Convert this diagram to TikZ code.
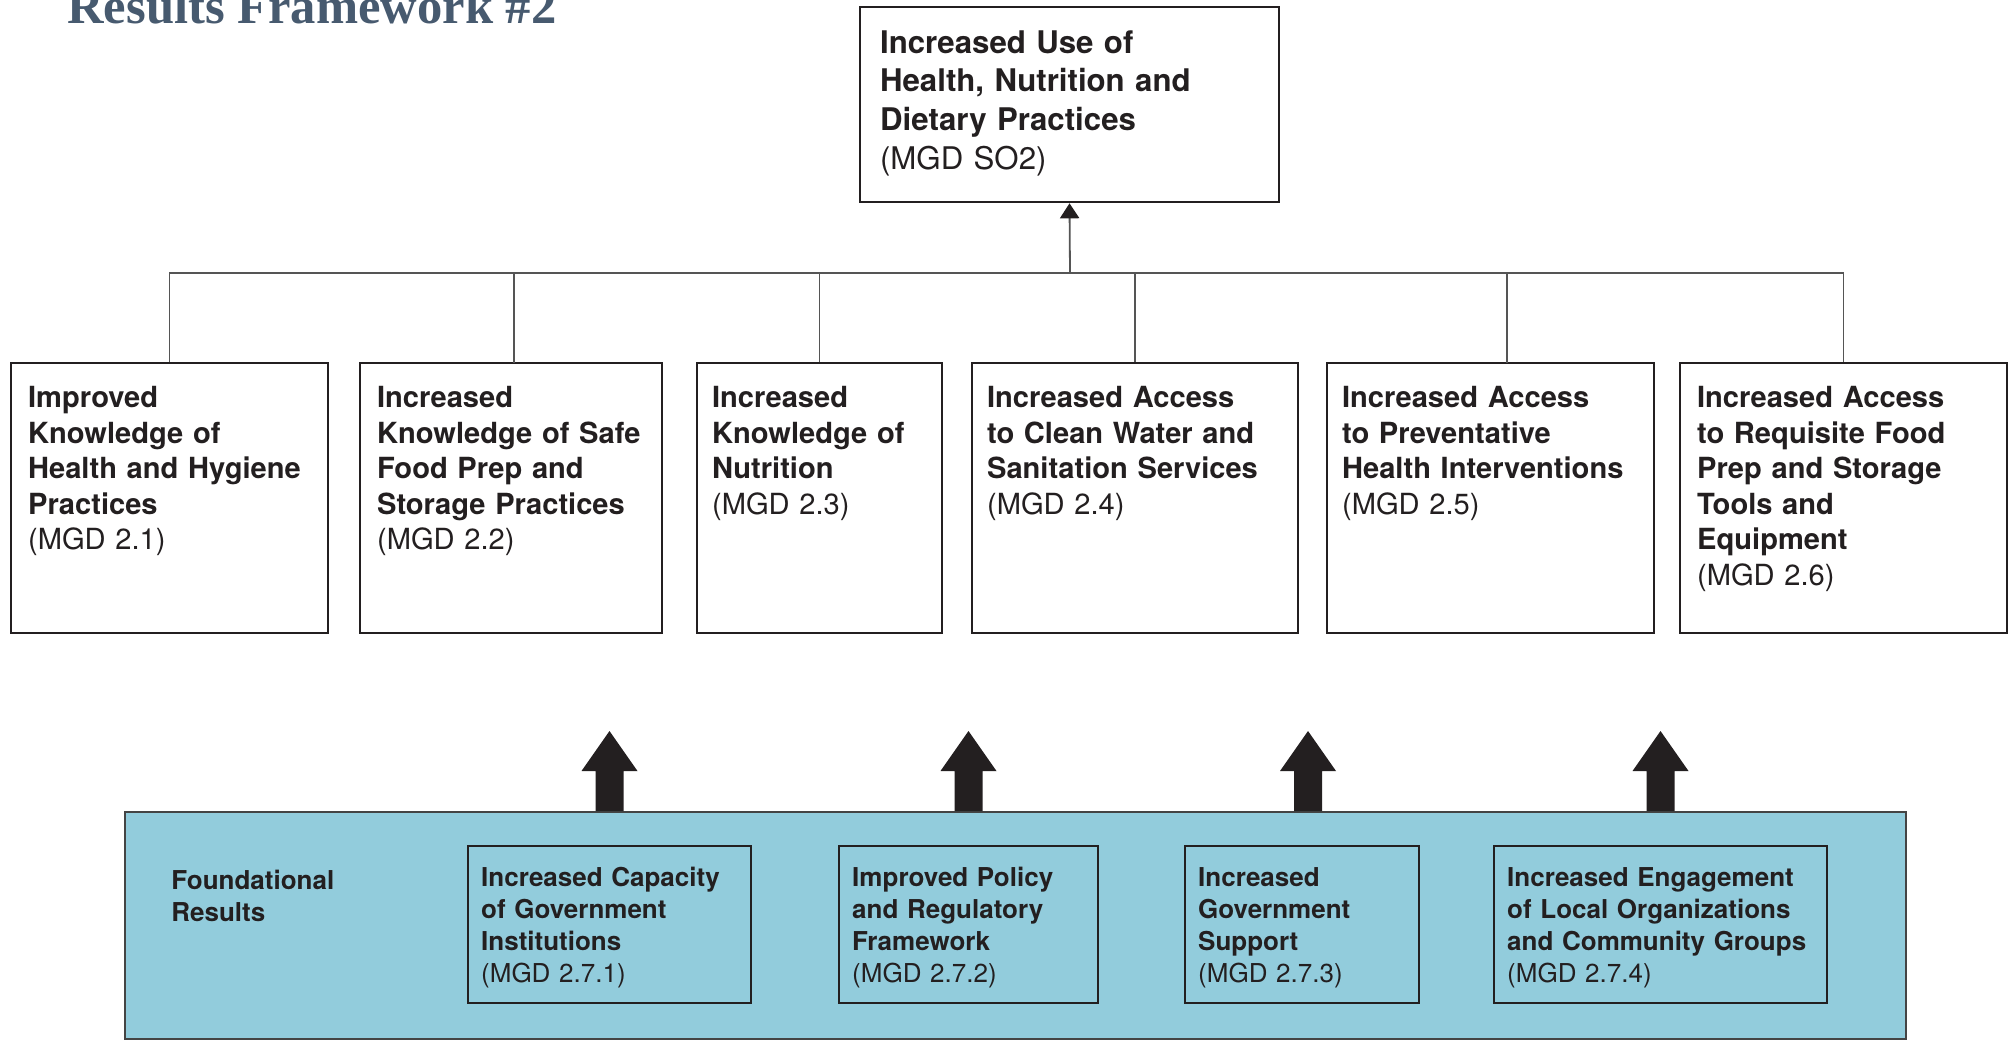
\documentclass[tikz,border=0pt]{standalone}
\usepackage{fontspec}
\usetikzlibrary{calc,arrows.meta}
\newfontfamily\hv{TeX Gyre Heros}
\newfontfamily\ttlfont{Liberation Serif}
\definecolor{ink}{HTML}{231F20}
\definecolor{fblue}{HTML}{92CCDC}
\definecolor{ttlcol}{HTML}{475A6F}
\definecolor{conncol}{HTML}{555555}
\tikzset{
  box/.style={draw=ink, line width=1.3pt, inner sep=0pt, fill=white},
  fbox/.style={draw=ink, line width=1.2pt, inner sep=0pt, fill=fblue},
  topfont/.style={font=\hv\fontsize{15.6}{19.3}\selectfont},
  rowfont/.style={font=\hv\fontsize{14.55}{17.75}\selectfont},
  fndfont/.style={font=\hv\fontsize{13}{16}\selectfont},
  txt/.style={anchor=base west, align=left, inner sep=0pt, text width=200pt, text=ink},
  conn/.style={draw=conncol, line width=0.9pt},
  barrow/.style={fill=ink},
}
\begin{document}
\begin{tikzpicture}[x=0.5pt, y=-0.5pt]
\useasboundingbox (0,0) rectangle (2009,1041);

% title
\node[anchor=base west, inner sep=0pt, text=ttlcol, font=\ttlfont\bfseries\fontsize{25.3}{30}\selectfont] (title) at (67,23) {Results Framework \#2};

% top box
\node[box, minimum width=209.5pt, minimum height=97.5pt] (top) at (1069.5,104.5) {};
\node[txt, topfont] (ttop) at ($(top.north west)+(21,47.5)$) {\bfseries Increased Use of\\Health, Nutrition and\\Dietary Practices\\\mdseries(MGD SO2)};

% row boxes
\node[box, minimum width=158.5pt, minimum height=135pt] (b1) at (169.5,498) {};
\node[box, minimum width=151pt, minimum height=135pt] (b2) at (511,498) {};
\node[box, minimum width=122.5pt, minimum height=135pt] (b3) at (819.5,498) {};
\node[box, minimum width=163pt, minimum height=135pt] (b4) at (1135,498) {};
\node[box, minimum width=163.5pt, minimum height=135pt] (b5) at (1490.5,498) {};
\node[box, minimum width=163.5pt, minimum height=135pt] (b6) at (1843.5,498) {};

\node[txt, rowfont] (t1) at ($(b1.north west)+(18,46)$) {\bfseries Improved\\Knowledge of\\Health and Hygiene\\Practices\\\mdseries(MGD 2.1)};
\node[txt, rowfont] (t2) at ($(b2.north west)+(18,46)$) {\bfseries Increased\\Knowledge of Safe\\Food Prep and\\Storage Practices\\\mdseries(MGD 2.2)};
\node[txt, rowfont] (t3) at ($(b3.north west)+(16,46)$) {\bfseries Increased\\Knowledge of\\Nutrition\\\mdseries(MGD 2.3)};
\node[txt, rowfont] (t4) at ($(b4.north west)+(16,46)$) {\bfseries Increased Access\\to Clean Water and\\Sanitation Services\\\mdseries(MGD 2.4)};
\node[txt, rowfont] (t5) at ($(b5.north west)+(16,46)$) {\bfseries Increased Access\\to Preventative\\Health Interventions\\\mdseries(MGD 2.5)};
\node[txt, rowfont] (t6) at ($(b6.north west)+(18,46)$) {\bfseries Increased Access\\to Requisite Food\\Prep and Storage\\Tools and\\Equipment\\\mdseries(MGD 2.6)};

% tree connectors
\coordinate (bus) at (1070,273);
\coordinate (d2) at (514,363);
\coordinate (d5) at (1507,363);
\draw[conn] (b1.north) |- (bus) -| (b6.north);
\draw[conn] (d2) -- (d2 |- bus);
\draw[conn] (b3.north) -- (b3.north |- bus);
\draw[conn] (b4.north) -- (b4.north |- bus);
\draw[conn] (d5) -- (d5 |- bus);
\draw[conn, -{Triangle[width=9.6pt,length=7.5pt,color=ink,fill=ink]}] (bus) -- (top.south);

% foundational results
\node[fbox, draw=conncol!80!black, line width=1pt, minimum width=890.5pt, minimum height=113.5pt] (fnd) at (1015.5,925.5) {};
\node[txt, fndfont] (tf) at (171,889) {\bfseries Foundational\\Results};

\node[fbox, minimum width=141.5pt, minimum height=78.5pt] (fa) at (609.5,924.5) {};
\node[fbox, minimum width=129.5pt, minimum height=78.5pt] (fb) at (968.5,924.5) {};
\node[fbox, minimum width=117pt, minimum height=78.5pt] (fc) at (1302,924.5) {};
\node[fbox, minimum width=166.5pt, minimum height=78.5pt] (fd) at (1660.5,924.5) {};

\node[txt, fndfont] (ta) at ($(fa.north west)+(14,42)$) {\bfseries Increased Capacity\\of Government\\Institutions\\\mdseries(MGD 2.7.1)};
\node[txt, fndfont] (tb) at ($(fb.north west)+(14,42)$) {\bfseries Improved Policy\\and Regulatory\\Framework\\\mdseries(MGD 2.7.2)};
\node[txt, fndfont] (tc) at ($(fc.north west)+(14,42)$) {\bfseries Increased\\Government\\Support\\\mdseries(MGD 2.7.3)};
\node[txt, fndfont] (td) at ($(fd.north west)+(14,42)$) {\bfseries Increased Engagement\\of Local Organizations\\and Community Groups\\\mdseries(MGD 2.7.4)};

% block arrows
\coordinate (a1) at (fa.north |- fnd.north);
\coordinate (a2) at (fb.north |- fnd.north);
\coordinate (a3) at ($(fc.north |- fnd.north)+(6,0)$);
\coordinate (a4) at (fd.north |- fnd.north);
\foreach \a in {a1,a2,a3,a4}{
  \fill[barrow] (\a) ++(-14,0) -- ++(0,-40) -- ++(-14,0) -- ++(28,-40) -- ++(28,40) -- ++(-14,0) -- ++(0,40) -- cycle;
}
\end{tikzpicture}
\end{document}
